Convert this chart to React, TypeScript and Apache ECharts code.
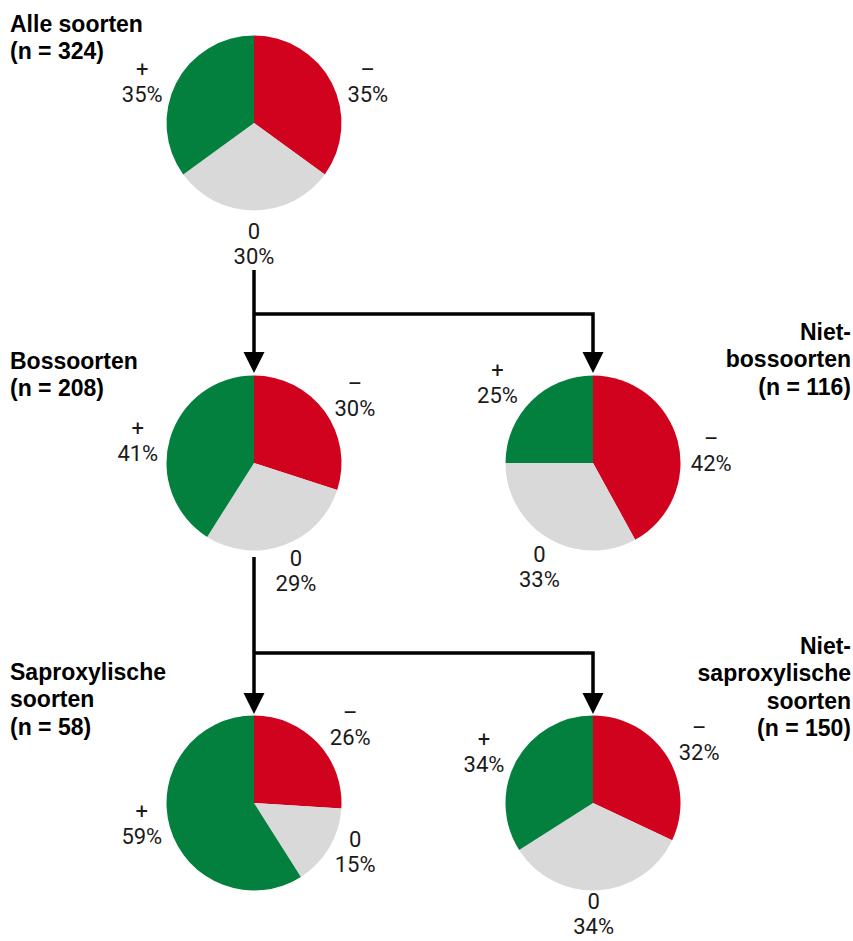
import React, { useEffect, useRef } from "react";
import * as echarts from "echarts";

// Categories: negative, neutral, positive trend
const categories = ["\u2013", "0", "+"];
const colors = ["#D0021E", "#D9D9D9", "#03803E"];

// Percentage shares per group, in category order
const alleSoorten = [35, 30, 35];
const bosSoorten = [30, 29, 41];
const nietBosSoorten = [42, 33, 25];
const saproxylisch = [26, 15, 59];
const nietSaproxylisch = [32, 34, 34];

const groupTitles = [
  "Alle soorten\n(n = 324)",
  "Bossoorten\n(n = 208)",
  "Niet-\nbossoorten\n(n = 116)",
  "Saproxylische\nsoorten\n(n = 58)",
  "Niet-\nsaproxylische\nsoorten\n(n = 150)",
];

const groups = [alleSoorten, bosSoorten, nietBosSoorten, saproxylisch, nietSaproxylisch];

// Layout of each pie
const centers: [number, number][] = [
  [254, 123],
  [254, 463],
  [593, 463],
  [254, 803],
  [593, 803],
];
const R = 87.5;

// Small label nudges [group][category] in px
const nudges: [number, number][][] = [
  [[6, 14], [0, 0], [-4, 14]],
  [[3, 4], [1, -6], [0, 12]],
  [[1, 18], [8, 0], [-10, 6]],
  [[8, 5], [-3, -13], [4, -13]],
  [[4, 2], [-7, -10], [-3, 7]],
];

const titleLayout = [
  { x: 10, y: 10, align: "left" },
  { x: 10, y: 347, align: "left" },
  { x: 851, y: 318, align: "right" },
  { x: 10, y: 658, align: "left" },
  { x: 851, y: 632, align: "right" },
];

const labelFont = 'Roboto, "Liberation Sans", sans-serif';
const titleFont = '"Liberation Sans", Arial, sans-serif';

function buildOption() {
  const series: any[] = [];
  groups.forEach((vals, gi) => {
    const data = vals.map((v, i) => ({
      name: categories[i],
      value: v,
      itemStyle: { color: colors[i] },
    }));
    series.push({
      type: "pie",
      center: centers[gi],
      radius: [0, R],
      startAngle: 90,
      clockwise: true,
      silent: true,
      label: { show: false },
      labelLine: { show: false },
      itemStyle: { borderWidth: 0 },
      data,
    });
    // transparent ring carrying the labels around the pie
    series.push({
      type: "pie",
      center: centers[gi],
      radius: [R + 12, R + 49],
      startAngle: 90,
      clockwise: true,
      silent: true,
      labelLine: { show: false },
      data: vals.map((v, i) => ({
        name: categories[i],
        value: v,
        itemStyle: { color: "rgba(0,0,0,0)" },
        label: { offset: nudges[gi][i] },
      })),
      label: {
        show: true,
        position: "inside",
        formatter: "{b}\n{c}%",
        color: "#1a1a1a",
        fontFamily: labelFont,
        fontSize: 22,
        lineHeight: 25,
        align: "center",
      },
    });
  });

  const lineStyle = { stroke: "#000", lineWidth: 3.5, lineJoin: "miter" };
  const arrow = (x: number, tipY: number) => ({
    type: "polygon",
    shape: { points: [[x - 10.5, tipY - 21], [x + 10.5, tipY - 21], [x, tipY]] },
    style: { fill: "#000" },
  });

  const graphic: any[] = [
    // connectors from all species to forest / non-forest
    { type: "line", shape: { x1: 254, y1: 270, x2: 254, y2: 354 }, style: lineStyle },
    { type: "polyline", shape: { points: [[254, 314], [593, 314], [593, 354]] }, style: lineStyle },
    arrow(254, 373),
    arrow(593, 373),
    // connectors from forest species to saproxylic / non-saproxylic
    { type: "line", shape: { x1: 254, y1: 557, x2: 254, y2: 695 }, style: lineStyle },
    { type: "polyline", shape: { points: [[254, 653], [593, 653], [593, 695]] }, style: lineStyle },
    arrow(254, 714),
    arrow(593, 714),
  ];

  groupTitles.forEach((t, i) => {
    const l = titleLayout[i];
    graphic.push({
      type: "text",
      x: l.x,
      y: l.y,
      style: {
        text: t,
        fill: "#000",
        font: `bold 23px ${titleFont}`,
        lineHeight: 27.5,
        align: l.align,
        verticalAlign: "top",
      },
    });
  });

  return {
    animation: false,
    backgroundColor: "#fff",
    series,
    graphic,
  };
}

export default function App() {
  const ref = useRef<HTMLDivElement>(null);
  useEffect(() => {
    document.body.style.margin = "0";
    if (!ref.current) return;
    const chart = echarts.init(ref.current, undefined, { renderer: "svg" });
    chart.setOption(buildOption());
    return () => chart.dispose();
  }, []);
  return <div ref={ref} style={{ width: 853, height: 941 }} />;
}
